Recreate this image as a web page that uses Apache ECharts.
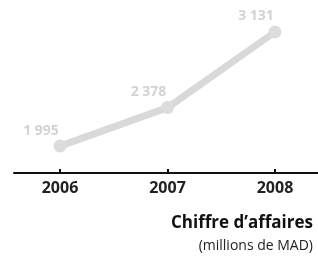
<!DOCTYPE html>
<html>
<head>
<meta charset="utf-8">
<style>
  html, body { margin: 0; padding: 0; background: #fff; }
  #main { width: 318px; height: 263px; }
</style>
<script src="https://cdn.jsdelivr.net/npm/echarts@6/dist/echarts.min.js"></script>
</head>
<body>
<div id="main"></div>
<script>
// 数据
var years = [2006, 2007, 2008];
var values = [1995, 2378, 3131];
var valueLabels = ["1 995", "2 378", "3 131"];

var myChart = echarts.init(document.getElementById("main"));

var points = [];
for (var i = 0; i < years.length; i++) {
  points.push([years[i], values[i]]);
}

var option = {
  animation: false,
  textStyle: { fontFamily: "Open Sans" },
  title: [
    {
      text: "Chiffre d\u2019affaires",
      right: 5,
      top: 215,
      padding: 0,
      textStyle: { fontSize: 17, fontWeight: "bold", color: "#111", fontFamily: "Open Sans" }
    },
    {
      text: "(millions de MAD)",
      right: 5,
      top: 239,
      padding: 0,
      textStyle: { fontSize: 14, fontWeight: "normal", color: "#222", fontFamily: "Open Sans" }
    }
  ],
  grid: { left: 14, right: 0, top: 32, bottom: 90 },
  xAxis: {
    type: "value",
    min: 2005.572,
    max: 2008.4,
    splitLine: { show: false },
    axisLine: { show: true, lineStyle: { color: "#111", width: 2 } },
    axisTick: {
      show: true,
      inside: true,
      length: 4,
      customValues: years,
      lineStyle: { color: "#111", width: 2 }
    },
    axisLabel: {
      customValues: years,
      margin: 7,
      fontSize: 16,
      fontWeight: "bold",
      color: "#222",
      fontFamily: "Open Sans",
      formatter: function (v) { return String(v); }
    }
  },
  yAxis: {
    type: "value",
    min: 1727,
    max: 3131,
    show: false
  },
  series: [
    {
      type: "line",
      data: points,
      symbol: "circle",
      symbolSize: 13,
      lineStyle: { color: "#d9d9d9", width: 7 },
      itemStyle: { color: "#dcdcdc" },
      label: {
        show: true,
        position: "top",
        distance: 5,
        offset: [-19, 3],
        fontSize: 14,
        fontWeight: "bold",
        color: "#d3d3d3",
        fontFamily: "Open Sans",
        formatter: function (p) { return valueLabels[p.dataIndex]; }
      },
      z: 3
    }
  ]
};

myChart.setOption(option);
</script>
</body>
</html>
